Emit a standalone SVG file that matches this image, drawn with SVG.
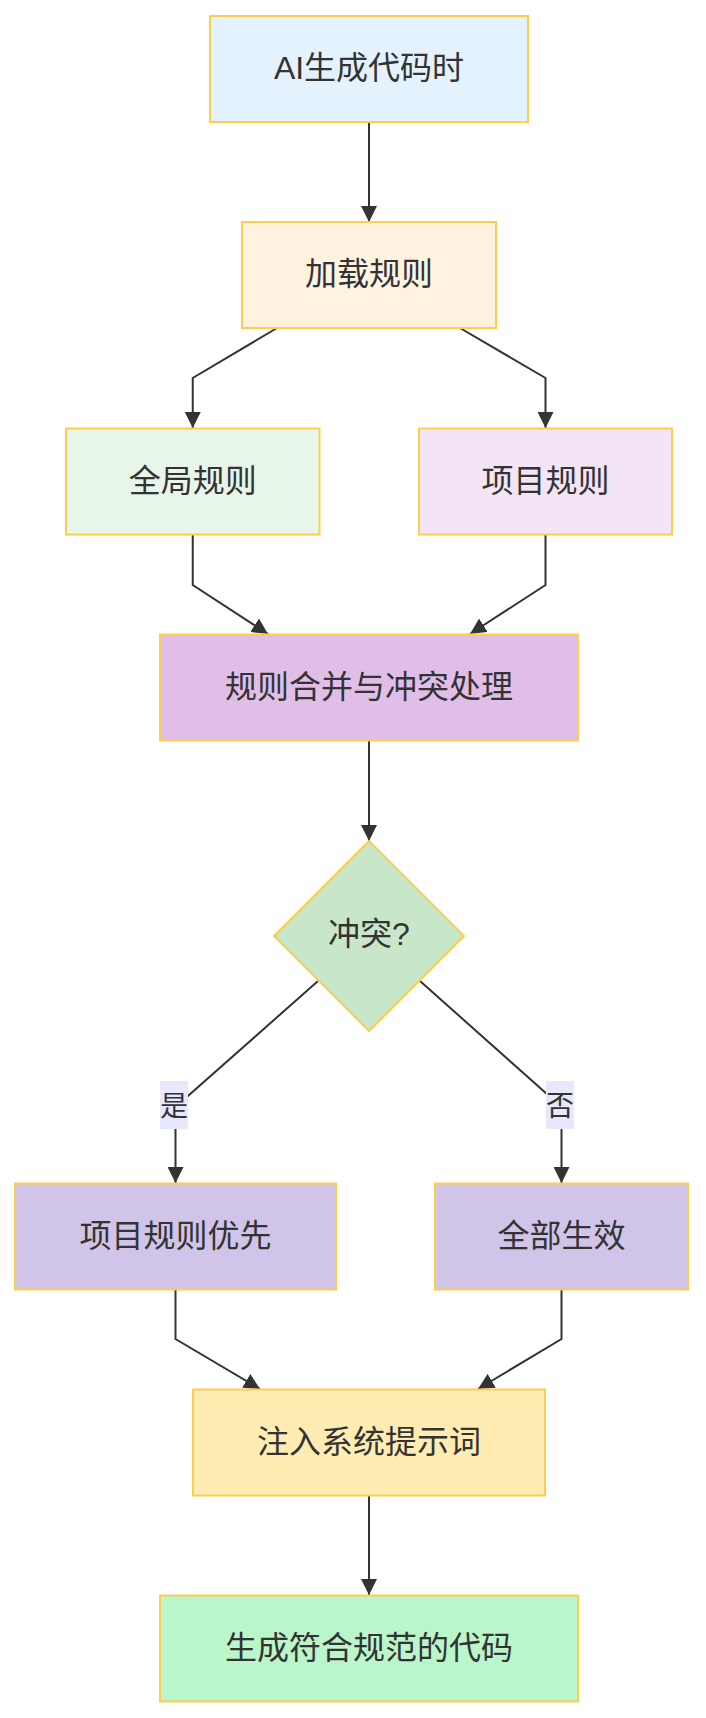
<svg xmlns="http://www.w3.org/2000/svg" width="706" height="1718" viewBox="0 0 706 1718">
<style>
.node rect, .node polygon { stroke: #FFCD4D; stroke-width: 2; }
.lbl { font-family: "Liberation Sans", "Noto Sans CJK SC", sans-serif; font-size: 32px; fill: #333333; text-anchor: middle; dominant-baseline: central; }
.elbl { font-family: "Liberation Sans", "Noto Sans CJK SC", sans-serif; font-size: 28px; fill: #333333; text-anchor: middle; dominant-baseline: central; }
.edge { fill: none; stroke: #333333; stroke-width: 2; marker-end: url(#arrow); }
.lblbg { fill: #E8E8FD; }
</style>
<defs>
<marker id="arrow" viewBox="0 0 10 10" refX="10" refY="5" markerUnits="userSpaceOnUse" markerWidth="16" markerHeight="16" orient="auto">
<path d="M0,0 L10,5 L0,10 z" fill="#333333"/>
</marker>
</defs>
<rect width="706" height="1718" fill="#FFFFFF"/>
<g id="connectors">
<path class="edge" d="M369,122 L369,222"/>
<path class="edge" d="M277,328 L192.75,378 L192.75,428"/>
<path class="edge" d="M460,328 L545.5,378 L545.5,428"/>
<path class="edge" d="M192.75,535 L192.75,585 L268,634"/>
<path class="edge" d="M545.5,535 L545.5,585 L470,634"/>
<path class="edge" d="M369,741 L369,841"/>
<path class="edge" d="M318,981 L175.5,1107 L175.5,1183"/>
<path class="edge" d="M420,981 L561.5,1107 L561.5,1183"/>
<path class="edge" d="M175.5,1290 L175.5,1339 L260,1389"/>
<path class="edge" d="M561.5,1290 L561.5,1339 L478,1389"/>
<path class="edge" d="M369,1496 L369,1595"/>
<g id="label-yes"><rect class="lblbg" x="160" y="1081" width="28" height="48"/><text class="elbl" x="174" y="1106">是</text></g>
<g id="label-no"><rect class="lblbg" x="546" y="1081" width="28" height="48"/><text class="elbl" x="560" y="1106">否</text></g>
</g>
<g id="n1" class="node"><rect x="210" y="16" width="318" height="106" fill="#E3F2FD"/><text class="lbl" x="369" y="68">AI生成代码时</text></g>
<g id="n2" class="node"><rect x="242" y="222" width="254" height="106" fill="#FFF3E0"/><text class="lbl" x="369" y="274">加载规则</text></g>
<g id="n3" class="node"><rect x="66" y="428.5" width="253.5" height="106" fill="#E8F5E9"/><text class="lbl" x="192.75" y="481">全局规则</text></g>
<g id="n4" class="node"><rect x="419" y="428.5" width="253" height="106" fill="#F3E5F5"/><text class="lbl" x="545.5" y="481">项目规则</text></g>
<g id="n5" class="node"><rect x="160" y="634.5" width="418" height="106" fill="#E1BEE7"/><text class="lbl" x="369" y="687" textLength="288" lengthAdjust="spacing">规则合并与冲突处理</text></g>
<g id="n6" class="node"><polygon points="369,841 464,936 369,1031 274,936" fill="#C8E6C9"/><text class="lbl" x="369" y="934">冲突?</text></g>
<g id="n7" class="node"><rect x="15" y="1183.5" width="321" height="106" fill="#D1C4E9"/><text class="lbl" x="175.5" y="1236">项目规则优先</text></g>
<g id="n8" class="node"><rect x="435" y="1183.5" width="253" height="106" fill="#D1C4E9"/><text class="lbl" x="561.5" y="1236">全部生效</text></g>
<g id="n9" class="node"><rect x="193" y="1389.5" width="352" height="106" fill="#FFECB3"/><text class="lbl" x="369" y="1442">注入系统提示词</text></g>
<g id="n10" class="node"><rect x="160" y="1595.5" width="418" height="106" fill="#B9F6CA"/><text class="lbl" x="369" y="1648">生成符合规范的代码</text></g>
</svg>
